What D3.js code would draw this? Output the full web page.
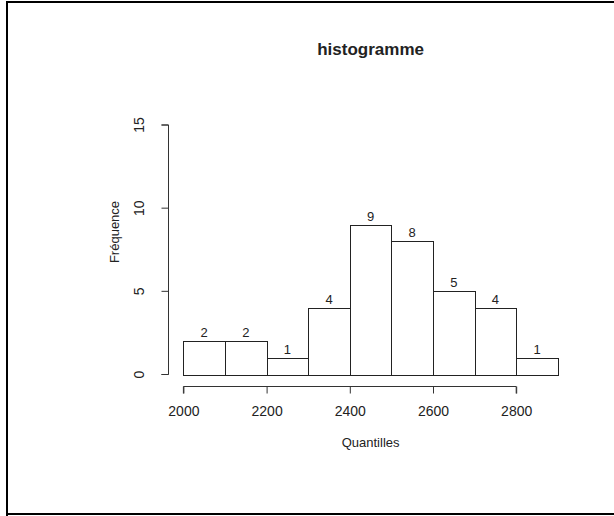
<!DOCTYPE html>
<html>
<head>
<meta charset="utf-8">
<script src="https://cdn.jsdelivr.net/npm/d3@7"></script>
<style>
	body { margin: 0; background: #fff; }
	text { font-family: "Liberation Sans", Arial, sans-serif; fill: #222; }
	.bar { fill: #fff; stroke: #222; stroke-width: 1; }
	.axis line, .axis path { stroke: #333; }
</style>
</head>
<body>
<svg id="chart"></svg>
<script>
// histogram bins (lower edges) and counts
const binStarts = [2000, 2100, 2200, 2300, 2400, 2500, 2600, 2700, 2800];
const binWidth = 100;
const counts = [2, 2, 1, 4, 9, 8, 5, 4, 1];
const xTicks = [2000, 2200, 2400, 2600, 2800];
const yTicks = [0, 5, 10, 15];

const width = 614;
const height = 516;
const font = "Liberation Sans, Arial, sans-serif";

const svg = d3.select("#chart")
	.attr("width", width)
	.attr("height", height);

// frame around the figure
svg.append("path")
	.attr("d", `M 7,516 L 7,2 L 614,2 M 7,514 L 614,514`)
	.attr("fill", "none")
	.attr("stroke", "#000")
	.attr("stroke-width", 2);

const x = d3.scaleLinear()
	.domain([2000, 2900])
	.range([183.4, 557.8]);
const y = d3.scaleLinear()
	.domain([0, 15])
	.range([374.5, 125]);

const bins = binStarts.map((b, i) => ({ x0: b, x1: b + binWidth, n: counts[i] }));

svg.selectAll(".bar")
	.data(bins)
	.enter()
	.append("rect")
	.attr("class", "bar")
	.attr("x", (d) => Math.round(x(d.x0)) + 0.5)
	.attr("y", (d) => Math.round(y(d.n)) + 0.5)
	.attr("width", (d) => Math.round(x(d.x1)) - Math.round(x(d.x0)))
	.attr("height", (d) => Math.round(y(0)) - Math.round(y(d.n)));

svg.selectAll(".count")
	.data(bins)
	.enter()
	.append("text")
	.attr("class", "count")
	.attr("x", (d) => (x(d.x0) + x(d.x1)) / 2)
	.attr("y", (d) => y(d.n) - 4)
	.attr("text-anchor", "middle")
	.style("font-size", "13px")
	.text((d) => d.n);

// x axis
const xAxis = svg.append("g")
	.attr("class", "axis")
	.attr("transform", "translate(0, 386.5)")
	.call(d3.axisBottom(x).tickValues(xTicks).tickSize(7).tickFormat(d3.format("d")));
xAxis.select(".domain").attr("d", `M ${x(2000)},7 V 0 H ${x(2800)} V 7`);
xAxis.selectAll("text")
	.attr("y", 29)
	.attr("dy", null)
	.attr("fill", "#222")
	.style("font-size", "14px")
	.style("font-family", font);

// y axis
const yAxis = svg.append("g")
	.attr("class", "axis")
	.attr("transform", "translate(168.5, 0)")
	.call(d3.axisLeft(y).tickValues(yTicks).tickSize(7).tickFormat(d3.format("d")));
yAxis.select(".domain").attr("d", `M -7,${y(0)} H 0 V ${y(15)} H -7`);
yAxis.selectAll(".tick").attr("transform", null);
yAxis.selectAll(".tick line").attr("y1", (d) => y(d)).attr("y2", (d) => y(d));
yAxis.selectAll("text")
	.attr("x", null)
	.attr("dy", null)
	.attr("y", 0)
	.attr("text-anchor", "middle")
	.attr("transform", (d) => `translate(-25, ${y(d)}) rotate(-90)`)
	.attr("fill", "#222")
	.style("font-size", "14px")
	.style("font-family", font);

// titles
svg.append("text")
	.attr("x", 370.6)
	.attr("y", 55)
	.attr("text-anchor", "middle")
	.style("font-size", "17px")
	.style("font-weight", "bold")
	.attr("fill", "#000")
	.text("histogramme");

svg.append("text")
	.attr("x", 370.6)
	.attr("y", 447)
	.attr("text-anchor", "middle")
	.style("font-size", "13px")
	.text("Quantilles");

svg.append("text")
	.attr("transform", "translate(118.5, 232) rotate(-90)")
	.attr("text-anchor", "middle")
	.style("font-size", "13px")
	.text("Fréquence");
</script>
</body>
</html>
